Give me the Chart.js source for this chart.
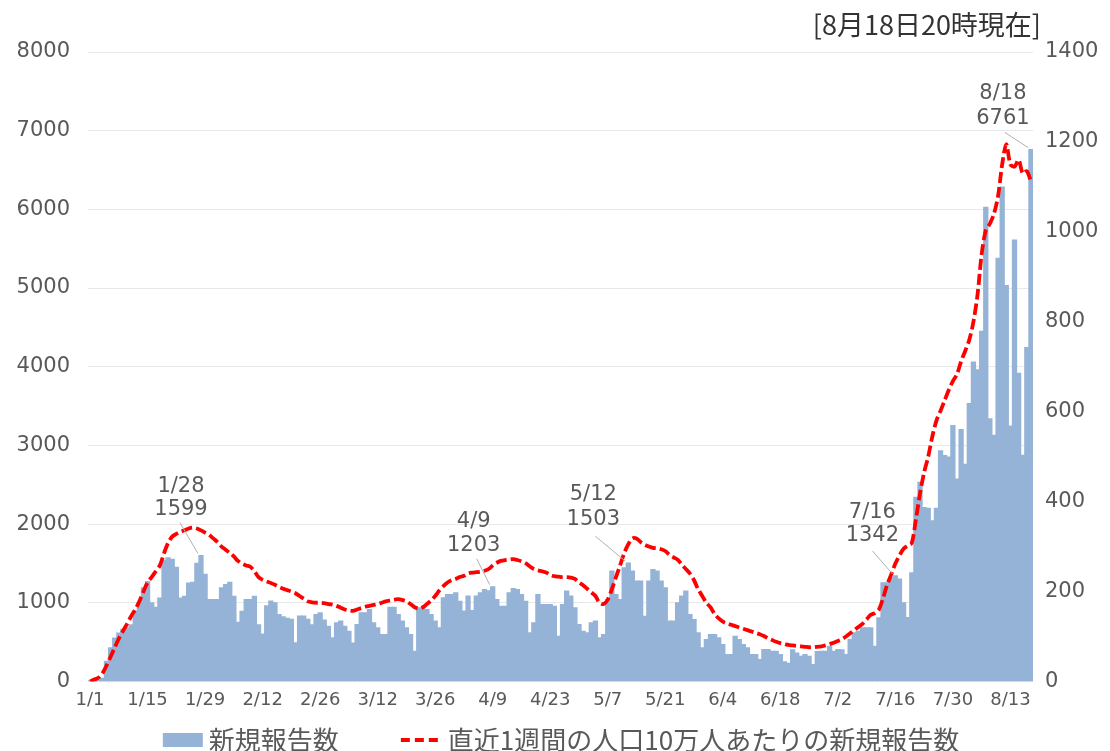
<!DOCTYPE html>
<html lang="ja">
<head>
<meta charset="utf-8">
<title>新規報告数</title>
<script src="https://cdn.jsdelivr.net/npm/chart.js@4.4.1/dist/chart.umd.min.js"></script>
<style>
  html, body { margin: 0; padding: 0; background: #fff; overflow: hidden; }
</style>
</head>
<body>
<canvas id="chart" width="1110" height="756"></canvas>
<script>
// daily new reports, 1/1 .. 8/18
const newCases = [
  5, 10, 20, 40, 255, 425, 550, 615, 660, 680,
  720, 890, 1000, 1190, 1270, 1000, 940, 1060, 1540, 1570,
  1550, 1450, 1060, 1080, 1250, 1260, 1500, 1599, 1360, 1040,
  1040, 1040, 1190, 1230, 1260, 1080, 750, 890, 1040, 1040,
  1080, 720, 600, 960, 1020, 1000, 850, 820, 800, 790,
  490, 830, 830, 790, 720, 850, 870, 780, 700, 552,
  743, 765, 700, 637, 488, 722, 871, 871, 913, 743,
  680, 595, 595, 942, 942, 850, 765, 680, 595, 382,
  934, 934, 913, 850, 765, 680, 1062, 1104, 1104, 1125,
  1019, 892, 1083, 900, 1083, 1125, 1168, 1150, 1203, 1040,
  955, 955, 1125, 1180, 1168, 1104, 1019, 616, 743, 1104,
  977, 977, 977, 955, 573, 977, 1147, 1083, 934, 722,
  637, 616, 743, 765, 552, 595, 1040, 1401, 1104, 1040,
  1444, 1503, 1401, 1274, 1274, 828, 1274, 1422, 1401, 1274,
  1189, 765, 765, 997, 1083, 1147, 850, 786, 616, 425,
  531, 595, 595, 552, 467, 340, 340, 573, 531, 467,
  425, 340, 340, 276, 403, 403, 382, 382, 340, 250,
  230, 400, 360, 318, 340, 318, 212, 380, 382, 382,
  446, 382, 403, 400, 340, 531, 616, 637, 680, 680,
  680, 446, 807, 1253, 1253, 1316, 1342, 1300, 1000, 810,
  1380, 2340, 2530, 2210, 2200, 2040, 2200, 2930, 2870, 2850,
  3250, 2570, 3200, 2760, 3530, 4060, 3960, 4450, 6027, 3338,
  3129, 5378, 6282, 5030, 3245, 5609, 3917, 2874, 4242, 6761
];

// new reports in the last 7 days per 100,000 people
const weeklyPer100k = [
  0, 4, 8, 18, 35, 55, 75, 95, 112, 128,
  145, 160, 178, 200, 220, 232, 245, 258, 285, 308,
  322, 328, 333, 336, 340, 342, 340, 336, 331, 326,
  318, 310, 300, 293, 286, 278, 268, 262, 258, 255,
  245, 232, 226, 222, 219, 215, 210, 206, 203, 200,
  196, 190, 184, 178, 176, 175, 175, 174, 172, 171,
  168, 164, 160, 158, 157, 160, 163, 166, 168, 170,
  172, 175, 178, 180, 182, 183, 181, 178, 172, 165,
  162, 165, 172, 180, 190, 202, 212, 220, 225, 228,
  232, 235, 240, 242, 243, 244, 246, 250, 258, 264,
  268, 270, 271, 272, 270, 267, 263, 256, 250, 247,
  245, 242, 237, 234, 233, 232, 232, 231, 228, 220,
  214, 206, 198, 190, 175, 172, 182, 205, 232, 258,
  285, 305, 318, 318, 310, 304, 300, 297, 296, 294,
  290, 282, 276, 271, 260, 250, 240, 225, 205, 190,
  175, 165, 150, 140, 133, 129, 126, 123, 120, 117,
  114, 111, 108, 105, 101, 96, 92, 88, 85, 83,
  81, 80, 79, 78, 77, 76, 76, 77, 78, 80,
  83, 86, 90, 94, 100, 107, 114, 121, 128, 138,
  148, 152, 160, 185, 215, 238, 262, 280, 295, 302,
  308, 360, 418, 465, 500, 545, 580, 602, 625, 648,
  668, 683, 712, 735, 760, 800, 860, 950, 1003, 1018,
  1040, 1080, 1150, 1195, 1150, 1145, 1160, 1130, 1135, 1112
];

const xTickLabels = ['1/1', '1/15', '1/29', '2/12', '2/26', '3/12', '3/26', '4/9', '4/23',
  '5/7', '5/21', '6/4', '6/18', '7/2', '7/16', '7/30', '8/13'];
const calloutDates = ['1/28', '4/9', '5/12', '7/16', '8/18'];

const barLabel = '新規報告数';
const lineLabel = '直近1週間の人口10万人あたりの新規報告数';
const asOfText = '[8月18日20時現在]';

// category labels m/d, one per day from 1/1
const dates = [];
for (let i = 0; i < newCases.length; i++) {
  const d = new Date(2022, 0, 1 + i);
  dates.push(`${d.getMonth() + 1}/${d.getDate()}`);
}

const BAR_COLOR = '#95b3d7';
const LINE_COLOR = '#ff0000';
const TEXT_COLOR = '#595959';
const NUM_FONT = "'DejaVu Sans', sans-serif";
const JP_FONT = "'Noto Sans CJK JP', 'Noto Sans', sans-serif";

// text/leader placement of each callout, relative to its bar top
const calloutStyle = [
  { dx: -20, dy1: -69, dy2: -46, lx: -21, ly: -33 },
  { dx: -19, dy1: -65, dy2: -41, lx: -16, ly: -28 },
  { dx: -35, dy1: -69, dy2: -44, lx: -33, ly: -27 },
  { dx: -23, dy1: -63, dy2: -40, lx: -23, ly: -25 },
  { dx: -28, dy1: -56, dy2: -31, lx: -26, ly: -17 }
];

const overlayPlugin = {
  id: 'overlay',
  afterDatasetsDraw(chart) {
    const { ctx } = chart;
    const bars = chart.getDatasetMeta(1).data;
    ctx.save();
    ctx.font = `21px ${NUM_FONT}`;
    ctx.textAlign = 'center';
    ctx.textBaseline = 'middle';
    calloutDates.forEach((d, k) => {
      const idx = dates.indexOf(d);
      const bar = bars[idx];
      const o = calloutStyle[k];
      ctx.strokeStyle = '#b0b0b0';
      ctx.lineWidth = 1;
      ctx.beginPath();
      ctx.moveTo(bar.x + o.lx, bar.y + o.ly);
      ctx.lineTo(bar.x - 3, bar.y - 2);
      ctx.stroke();
      ctx.fillStyle = TEXT_COLOR;
      ctx.fillText(d, bar.x + o.dx, bar.y + o.dy1);
      ctx.fillText(String(newCases[idx]), bar.x + o.dx, bar.y + o.dy2);
    });
    ctx.restore();
  },
  afterDraw(chart) {
    const { ctx, chartArea } = chart;
    ctx.save();
    // "as of" note, top right
    ctx.font = `27px ${JP_FONT}`;
    ctx.fillStyle = '#333333';
    ctx.textAlign = 'right';
    ctx.textBaseline = 'middle';
    ctx.fillText(asOfText, chartArea.right + 8, 25);

    // legend
    ctx.font = `26px ${JP_FONT}`;
    const w1 = ctx.measureText(barLabel).width;
    const w2 = ctx.measureText(lineLabel).width;
    const total = 40 + 6 + w1 + 62 + 40 + 7 + w2;
    let x = chart.width / 2 + 6 - total / 2;
    const y = 740;
    ctx.fillStyle = BAR_COLOR;
    ctx.fillRect(x, y - 7, 40, 14);
    x += 46;
    ctx.fillStyle = TEXT_COLOR;
    ctx.textAlign = 'left';
    ctx.fillText(barLabel, x, y);
    x += w1 + 62;
    ctx.strokeStyle = LINE_COLOR;
    ctx.lineWidth = 4;
    ctx.setLineDash([9, 5]);
    ctx.beginPath();
    ctx.moveTo(x, y);
    ctx.lineTo(x + 40, y);
    ctx.stroke();
    ctx.setLineDash([]);
    x += 47;
    ctx.fillText(lineLabel, x, y);
    ctx.restore();
  }
};

const plainNumber = (v) => String(v);

new Chart(document.getElementById('chart'), {
  data: {
    labels: dates,
    datasets: [
      {
        type: 'line',
        label: lineLabel,
        data: weeklyPer100k,
        yAxisID: 'y1',
        borderColor: LINE_COLOR,
        borderWidth: 3.8,
        borderDash: [11, 4],
        pointRadius: 0,
        tension: 0.3,
        fill: false,
        order: 0
      },
      {
        type: 'bar',
        label: barLabel,
        data: newCases,
        yAxisID: 'y',
        backgroundColor: BAR_COLOR,
        borderWidth: 0,
        categoryPercentage: 1,
        barPercentage: 1,
        inflateAmount: 0.6,
        order: 1
      }
    ]
  },
  options: {
    responsive: false,
    animation: false,
    layout: { padding: { top: 52, bottom: 37, left: 0, right: 0 } },
    plugins: {
      legend: { display: false },
      tooltip: { enabled: false }
    },
    scales: {
      x: {
        grid: { display: false, drawTicks: false },
        border: { display: false },
        ticks: {
          autoSkip: false,
          maxRotation: 0,
          padding: 8,
          color: TEXT_COLOR,
          font: { family: NUM_FONT, size: 18 },
          callback(value) {
            const lab = this.getLabelForValue(value);
            return xTickLabels.includes(lab) ? lab : null;
          }
        }
      },
      y: {
        position: 'left',
        min: 0,
        max: 8000,
        ticks: { stepSize: 1000, padding: 18, color: TEXT_COLOR, font: { family: NUM_FONT, size: 21 }, callback: plainNumber },
        grid: { color: '#e8e8e8', drawTicks: false },
        border: { display: false },
        afterFit(scale) { scale.width = 88; }
      },
      y1: {
        position: 'right',
        min: 0,
        max: 1400,
        ticks: { stepSize: 200, padding: 12, color: TEXT_COLOR, font: { family: NUM_FONT, size: 21 }, callback: plainNumber },
        grid: { drawOnChartArea: false, drawTicks: false },
        border: { display: false },
        afterFit(scale) { scale.width = 77; }
      }
    }
  },
  plugins: [overlayPlugin]
});
</script>
</body>
</html>
